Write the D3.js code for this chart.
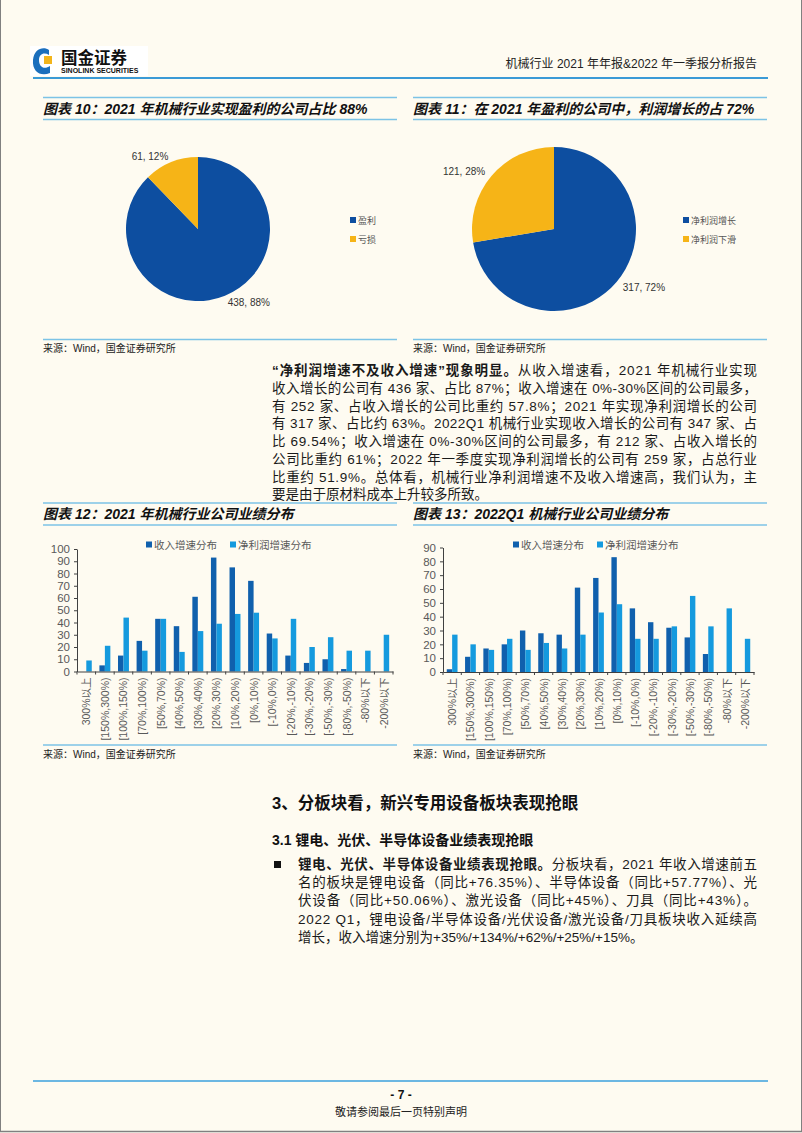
<!DOCTYPE html>
<html><head><meta charset="utf-8">
<script src="https://cdn.jsdelivr.net/npm/d3@7"></script>
<style>
body{margin:0;background:#fefbf1;}
svg{display:block;}
text{font-family:"Liberation Sans","Noto Sans CJK SC",sans-serif;}
</style></head><body><svg id="c" width="802" height="1133"></svg>
<script>
// ---------------- data ----------------
const pie10Labels = ["盈利", "亏损"];
const pie10Values = [438, 61];
const pie11Labels = ["净利润增长", "净利润下滑"];
const pie11Values = [317, 121];
const buckets = ["300%以上","[150%,300%)","[100%,150%)","[70%,100%)","[50%,70%)","[40%,50%)","[30%,40%)","[20%,30%)","[10%,20%)","[0%,10%)","[-10%,0%)","[-20%,-10%)","[-30%,-20%)","[-50%,-30%)","[-80%,-50%)","-80%以下","-200%以下"];
const seriesNames = ["收入增速分布", "净利润增速分布"];
const rev2021    = [0, 5, 13, 25, 43, 37, 61, 93, 85, 74, 31, 13, 7, 10, 2, 0, 0];
const profit2021 = [9, 21, 44, 17, 43, 16, 33, 39, 47, 48, 27, 43, 20, 28, 17, 17, 30];
const rev2022    = [2, 11, 17, 20, 30, 28, 27, 61, 68, 83, 46, 36, 32, 25, 13, 0, 0];
const profit2022 = [27, 20, 16, 24, 16, 21, 17, 27, 43, 49, 24, 24, 33, 55, 33, 46, 24];
const yTicks2021 = [0, 10, 20, 30, 40, 50, 60, 70, 80, 90, 100];
const yTicks2022 = [0, 10, 20, 30, 40, 50, 60, 70, 80, 90];

// ---------------- style ----------------
const BLUE = "#0d4ea0", YELLOW = "#f6b417";
const DARK = "#1060ad", LIGHT = "#159ade";
const FRAME = "#7cc3e6";
const svg = d3.select("#c");

// page border
svg.append("line").attr("x1",0.5).attr("x2",0.5).attr("y1",0).attr("y2",1131.5).attr("stroke","#808080");
svg.append("line").attr("x1",801.5).attr("x2",801.5).attr("y1",0).attr("y2",1131.5).attr("stroke","#808080");
svg.append("line").attr("x1",0).attr("x2",802).attr("y1",1131.5).attr("y2",1131.5).attr("stroke","#808080").attr("stroke-width",1.5);

// ---------------- header ----------------
svg.append("rect").attr("x",30).attr("y",46).attr("width",118).attr("height",30).attr("fill","#fff");
svg.append("path").attr("d","M49,50 C44,46 34,48 33,60 C32,72 41,77 50,73 L50,66 C44,70 39,67 39,60 C39,54 44,52 49,55 Z").attr("fill","#1b6fbd");
svg.append("rect").attr("x",44).attr("y",56).attr("width",8).attr("height",8).attr("fill","#f3b51b");
svg.append("text").attr("x",61).attr("y",64).attr("font-size",16.5).attr("font-weight","bold").attr("fill","#111").text("国金证券");
svg.append("text").attr("x",61).attr("y",73).attr("font-size",7).attr("font-weight","bold").attr("fill","#111").text("SINOLINK SECURITIES");
svg.append("text").attr("x",757).attr("y",68).attr("text-anchor","end").attr("font-size",12).attr("fill","#222").text("机械行业 2021 年年报&2022 年一季报分析报告");
svg.append("line").attr("x1",33).attr("x2",768).attr("y1",78).attr("y2",78).attr("stroke","#3a9ad6").attr("stroke-width",2);

// ---------------- chart frames ----------------
function frame(x0, x1, yTop, yBot, title, ySrc) {
  svg.append("line").attr("x1",x0).attr("x2",x1).attr("y1",yTop).attr("y2",yTop).attr("stroke",FRAME).attr("stroke-width",1.3);
  svg.append("line").attr("x1",x0).attr("x2",x1).attr("y1",yTop+22).attr("y2",yTop+22).attr("stroke",FRAME).attr("stroke-width",1.3);
  svg.append("text").attr("x",x0).attr("y",yTop+16).attr("font-size",14).attr("font-weight","bold").attr("font-style","italic").attr("fill","#111").text(title);
  svg.append("line").attr("x1",x0).attr("x2",x1).attr("y1",yBot).attr("y2",yBot).attr("stroke",FRAME).attr("stroke-width",1.3);
  svg.append("text").attr("x",x0).attr("y",ySrc).attr("font-size",10).attr("fill","#222").text("来源：Wind，国金证券研究所");
}
frame(43, 397, 97.5, 339.5, "图表 10：2021 年机械行业实现盈利的公司占比 88%", 352);
frame(413, 767, 97.5, 339.5, "图表 11：在 2021 年盈利的公司中，利润增长的占 72%", 352);
frame(43, 397, 503, 745, "图表 12：2021 年机械行业公司业绩分布", 758);
frame(413, 767, 503, 745, "图表 13：2022Q1 机械行业公司业绩分布", 758);

// ---------------- pies ----------------
function pieChart(cx, cy, r, labels, values, legX, legY) {
  const g = svg.append("g").attr("transform", `translate(${cx},${cy})`);
  const total = d3.sum(values);
  const arcs = d3.pie().sort(null)(values);
  const arc = d3.arc().innerRadius(0).outerRadius(r);
  const colors = [BLUE, YELLOW];
  g.selectAll("path").data(arcs).join("path").attr("d", arc).attr("fill", (d,i)=>colors[i]);
  const lab = d3.arc().innerRadius(r*1.1).outerRadius(r*1.1);
  g.selectAll("text.l").data(arcs).join("text").attr("class","l")
    .attr("x", d=>lab.centroid(d)[0]).attr("y", d=>lab.centroid(d)[1]+4)
    .attr("text-anchor", d=> (d.startAngle+d.endAngle)/2 > Math.PI ? "end" : "start")
    .attr("font-size",10).attr("fill","#333")
    .text(d=> `${d.data}, ${d3.format(".0%")(d.data/total)}`);
  labels.forEach((t,i)=>{
    svg.append("rect").attr("x",legX).attr("y",legY+i*19-3).attr("width",6).attr("height",6).attr("fill",colors[i]);
    svg.append("text").attr("x",legX+8).attr("y",legY+i*19+3.5).attr("font-size",9).attr("fill","#555").text(t);
  });
}
pieChart(198, 229, 72, pie10Labels, pie10Values, 350, 220);
pieChart(554, 229, 82, pie11Labels, pie11Values, 683, 220);

// ---------------- bar charts ----------------
function barChart(x0, x1, yTop, yBase, maxV, ticks, rev, profit, legX) {
  const g = svg.append("g");
  const x = d3.scaleBand().domain(buckets).range([x0, x1]).paddingInner(0.7/1.7).paddingOuter(0.35/1.7);
  const xi = d3.scaleBand().domain([0,1]).range([0, x.bandwidth()]);
  const y = d3.scaleLinear().domain([0, maxV]).range([yBase, yTop]);
  const data = buckets.map((b,i)=>({b, v:[rev[i], profit[i]]}));
  const grp = g.selectAll("g.c").data(data).join("g").attr("transform", d=>`translate(${x(d.b)},0)`);
  grp.selectAll("rect").data(d=>d.v).join("rect")
    .attr("x",(d,i)=>xi(i)).attr("width",xi.bandwidth())
    .attr("y",d=>y(d)).attr("height",d=>yBase - y(d))
    .attr("fill",(d,i)=> i===0 ? DARK : LIGHT);
  // y axis
  const ya = g.append("g").attr("transform",`translate(${x0},0)`).call(d3.axisLeft(y).tickValues(ticks).tickSize(3).tickSizeOuter(0).tickPadding(4));
  ya.select(".domain").attr("stroke","#404040");
  ya.selectAll(".tick line").attr("stroke","#404040");
  ya.selectAll("text").attr("font-size",11.5).attr("fill","#595959").attr("font-family","Liberation Sans");
  // x axis
  const xa = g.append("g").attr("transform",`translate(0,${yBase})`).call(d3.axisBottom(x).tickSize(0).tickFormat(""));
  xa.select(".domain").attr("stroke","#404040");
  const step = x.step();
  const bounds = d3.range(buckets.length+1).map(i=> x0 + i*step);
  g.selectAll("line.bt").data(bounds).join("line").attr("class","bt")
    .attr("x1",d=>d).attr("x2",d=>d).attr("y1",yBase).attr("y2",yBase+3).attr("stroke","#404040");
  g.selectAll("text.xl").data(buckets).join("text").attr("class","xl")
    .attr("transform", d=>`translate(${x(d)+x.bandwidth()/2+4},${yBase+6}) rotate(-90)`)
    .attr("text-anchor","end").attr("font-size",10.5).attr("fill","#595959").text(d=>d);
  // legend
  let lx = legX;
  seriesNames.forEach((s,i)=>{
    svg.append("rect").attr("x",lx).attr("y",541.5).attr("width",6).attr("height",6).attr("fill", i===0?DARK:LIGHT);
    const t = svg.append("text").attr("x",lx+8).attr("y",548.5).attr("font-size",10.5).attr("fill","#595959").text(s);
    lx += 8 + t.node().getComputedTextLength() + 13;
  });
}
barChart(77, 393, 549, 671.5, 100, yTicks2021, rev2021, profit2021, 146);
barChart(443, 754, 547.5, 672, 90, yTicks2022, rev2022, profit2022, 513);

// ---------------- body text ----------------
function jline(x, y, w, segs, justify, size) {
  const t = svg.append("text").attr("x",x).attr("y",y).attr("font-size",size).attr("fill","#1a1a1a");
  segs.forEach(s=>{ t.append("tspan").attr("font-weight", s[1]?"bold":"normal").text(s[0]); });
  if (justify) t.attr("textLength", w).attr("lengthAdjust","spacing");
}
const para = [
  [["“净利润增速不及收入增速”现象明显。",1],["从收入增速看，2021 年机械行业实现",0]],
  [["收入增长的公司有 436 家、占比 87%；收入增速在 0%-30%区间的公司最多，",0]],
  [["有 252 家、占收入增长的公司比重约 57.8%；2021 年实现净利润增长的公司",0]],
  [["有 317 家、占比约 63%。2022Q1 机械行业实现收入增长的公司有 347 家、占",0]],
  [["比 69.54%；收入增速在 0%-30%区间的公司最多，有 212 家、占收入增长的",0]],
  [["公司比重约 61%；2022 年一季度实现净利润增长的公司有 259 家，占总行业",0]],
  [["比重约 51.9%。总体看，机械行业净利润增速不及收入增速高，我们认为，主",0]],
  [["要是由于原材料成本上升较多所致。",0]]
];
para.forEach((l,i)=> jline(272, 375 + i*17.75, 485, l, i < para.length-1, 13.5));

svg.append("text").attr("x",272).attr("y",809).attr("font-size",16.5).attr("font-weight","bold").attr("fill","#111").text("3、分板块看，新兴专用设备板块表现抢眼");
svg.append("text").attr("x",272).attr("y",845).attr("font-size",14).attr("font-weight","bold").attr("fill","#111").text("3.1 锂电、光伏、半导体设备业绩表现抢眼");
svg.append("rect").attr("x",274).attr("y",861).attr("width",7).attr("height",7).attr("fill","#111");
const bullet = [
  [["锂电、光伏、半导体设备业绩表现抢眼。",1],["分板块看，2021 年收入增速前五",0]],
  [["名的板块是锂电设备（同比+76.35%）、半导体设备（同比+57.77%）、光",0]],
  [["伏设备（同比+50.06%）、激光设备（同比+45%）、刀具（同比+43%）。",0]],
  [["2022 Q1，锂电设备/半导体设备/光伏设备/激光设备/刀具板块收入延续高",0]],
  [["增长，收入增速分别为+35%/+134%/+62%/+25%/+15%。",0]]
];
bullet.forEach((l,i)=> jline(298, 869 + i*18.2, 459, l, i < bullet.length-1, 13.5));

// ---------------- footer ----------------
svg.append("line").attr("x1",33).attr("x2",768).attr("y1",1081).attr("y2",1081).attr("stroke","#6cb7e2").attr("stroke-width",2);
svg.append("text").attr("x",401).attr("y",1099).attr("text-anchor","middle").attr("font-size",12).attr("font-weight","bold").attr("fill","#111").text("- 7 -");
svg.append("text").attr("x",401).attr("y",1116).attr("text-anchor","middle").attr("font-size",11).attr("fill","#222").text("敬请参阅最后一页特别声明");
</script></body></html>
